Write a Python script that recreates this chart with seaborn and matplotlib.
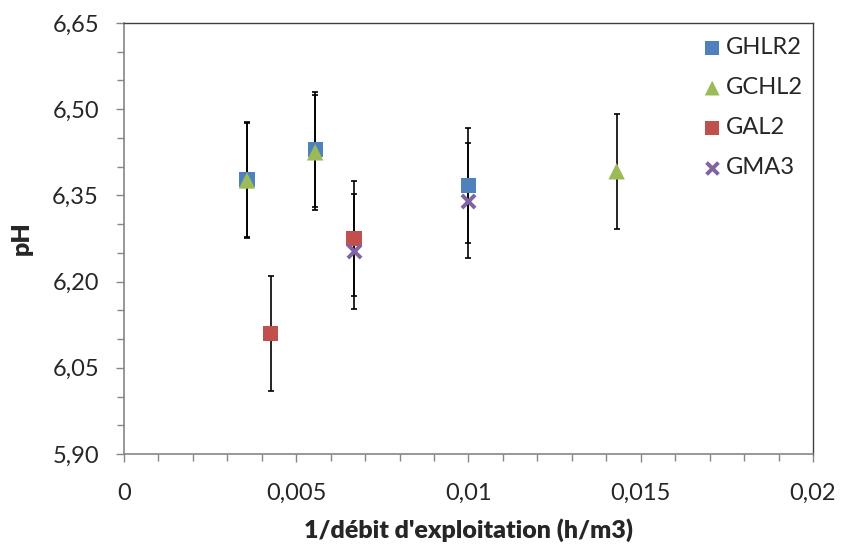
import matplotlib
matplotlib.use('Agg')
import matplotlib.pyplot as plt
from matplotlib.ticker import MultipleLocator, FuncFormatter
import seaborn as sns
import pandas as pd

# data
series = ['GHLR2', 'GCHL2', 'GAL2', 'GMA3']
ghlr2_x = [0.00357, 0.00555, 0.0100]
ghlr2_y = [6.378, 6.430, 6.367]
gchl2_x = [0.00357, 0.00555, 0.0143]
gchl2_y = [6.376, 6.425, 6.392]
gal2_x = [0.00426, 0.00668]
gal2_y = [6.110, 6.275]
gma3_x = [0.00668, 0.0100]
gma3_y = [6.253, 6.341]
err = 0.1

colors = {'GHLR2': '#4F81BD', 'GCHL2': '#9BBB59', 'GAL2': '#C0504D', 'GMA3': '#8064A2'}
markers = {'GHLR2': 's', 'GCHL2': '^', 'GAL2': 's', 'GMA3': 'x'}
sizes = {'GHLR2': 120, 'GCHL2': 140, 'GAL2': 120, 'GMA3': 90}

xs = {'GHLR2': ghlr2_x, 'GCHL2': gchl2_x, 'GAL2': gal2_x, 'GMA3': gma3_x}
ys = {'GHLR2': ghlr2_y, 'GCHL2': gchl2_y, 'GAL2': gal2_y, 'GMA3': gma3_y}

sns.set_style('white')
plt.rcParams['font.family'] = ['Lato', 'DejaVu Sans']

fig = plt.figure(figsize=(8.41, 5.44), dpi=100)
ax = fig.add_axes([0.1474, 0.1654, 0.8193, 0.7923])

for s in series:
    ax.errorbar(xs[s], ys[s], yerr=err, fmt='none', ecolor='black',
                elinewidth=1.2, capsize=2, capthick=1.2, zorder=2)

for s in series:
    df = pd.DataFrame({'x': xs[s], 'y': ys[s]})
    if markers[s] == 'x':
        sns.scatterplot(data=df, x='x', y='y', marker='x', color=colors[s],
                        s=sizes[s], linewidth=2.8, label=s, ax=ax, zorder=3)
    else:
        sns.scatterplot(data=df, x='x', y='y', marker=markers[s], color=colors[s],
                        s=sizes[s], linewidth=0, edgecolor='none', label=s, ax=ax, zorder=3)

ax.set_xlim(0, 0.02)
ax.set_ylim(5.90, 6.65)
ax.xaxis.set_major_locator(MultipleLocator(0.005))
ax.xaxis.set_minor_locator(MultipleLocator(0.001))
ax.yaxis.set_major_locator(MultipleLocator(0.15, offset=5.90))
ax.yaxis.set_minor_locator(MultipleLocator(0.05, offset=5.90))
ax.xaxis.set_major_formatter(FuncFormatter(lambda v, p: f'{v:g}'.replace('.', ',')))
ax.yaxis.set_major_formatter(FuncFormatter(lambda v, p: f'{v:.2f}'.replace('.', ',')))

ax.tick_params(which='major', direction='out', length=6, width=1, color='#868686',
               labelsize=17, pad=12, left=True, bottom=True)
ax.tick_params(axis='x', which='major', pad=15)
ax.tick_params(which='minor', direction='out', length=5, width=1, color='#868686',
               left=True, bottom=True)

for side in ['left', 'bottom']:
    ax.spines[side].set_color('#868686')
    ax.spines[side].set_linewidth(1.2)
for side in ['top', 'right']:
    ax.spines[side].set_color('#404040')
    ax.spines[side].set_linewidth(1.0)

ax.set_xlabel("1/débit d'exploitation (h/m3)", fontsize=18, fontweight='heavy', labelpad=10)
ax.set_ylabel('pH', fontsize=18, fontweight='heavy', labelpad=14)

handles, labels = ax.get_legend_handles_labels()
ax.legend(handles, labels, loc='upper right', bbox_to_anchor=(1.01, 1.005),
          frameon=False, fontsize=17, handletextpad=0.1, handlelength=1.0,
          labelspacing=0.8, markerscale=0.9, borderaxespad=0.3)

fig.savefig('out.png', dpi=100)
